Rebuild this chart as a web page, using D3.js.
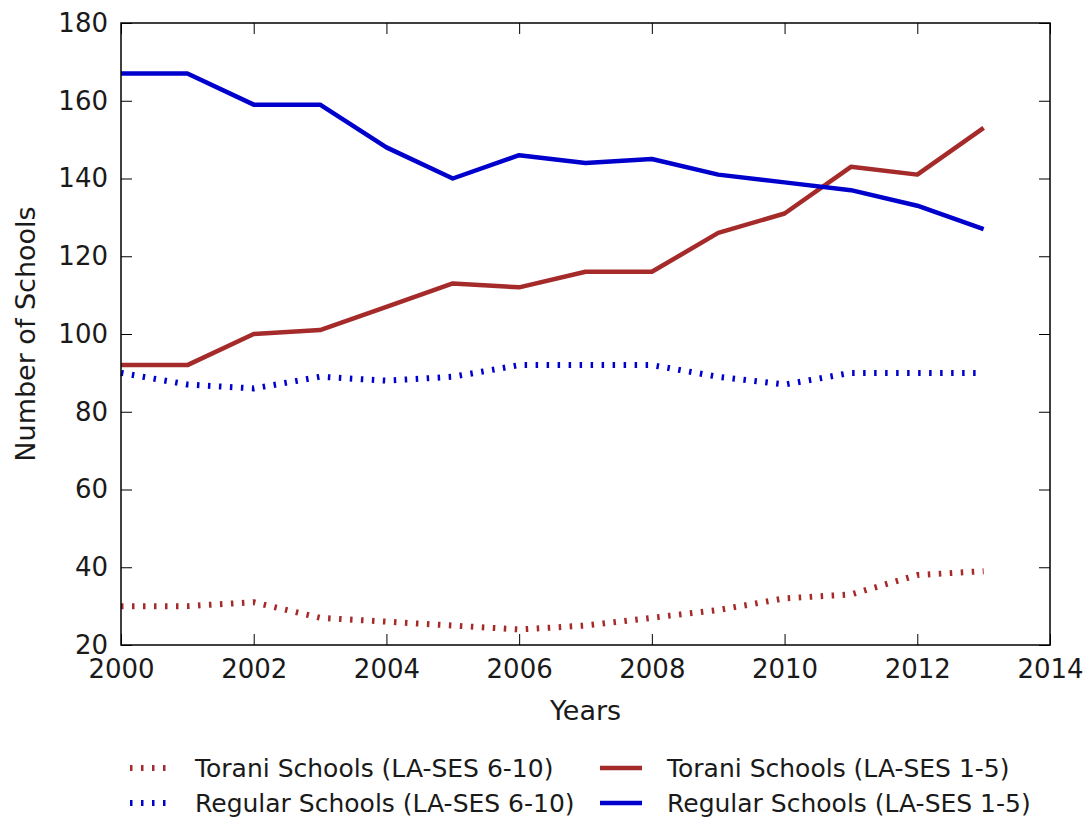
<!DOCTYPE html>
<html>
<head>
<meta charset="utf-8">
<script src="https://cdn.jsdelivr.net/npm/d3@7"></script>
<style>
  html, body { margin: 0; padding: 0; background: #fff; }
  svg { display: block; font-family: "DejaVu Sans", sans-serif; }
</style>
</head>
<body>
<svg id="chart" width="1091" height="821"></svg>
<script>
// Years on the x axis
const years = [2000, 2001, 2002, 2003, 2004, 2005, 2006, 2007, 2008, 2009, 2010, 2011, 2012, 2013];

// Number of schools per series
const toraniHigh  = [30, 30, 31, 27, 26, 25, 24, 25, 27, 29, 32, 33, 38, 39];        // Torani, LA-SES 6-10
const regularHigh = [90, 87, 86, 89, 88, 89, 92, 92, 92, 89, 87, 90, 90, 90];        // Regular, LA-SES 6-10
const toraniLow   = [92, 92, 100, 101, 107, 113, 112, 116, 116, 126, 131, 143, 141, 153]; // Torani, LA-SES 1-5
const regularLow  = [167, 167, 159, 159, 148, 140, 146, 144, 145, 141, 139, 137, 133, 127]; // Regular, LA-SES 1-5

// Tick values
const xTicks = [2000, 2002, 2004, 2006, 2008, 2010, 2012, 2014];
const yTicks = [20, 40, 60, 80, 100, 120, 140, 160, 180];

const seriesNames = [
  "Torani Schools (LA-SES 6-10)",
  "Torani Schools (LA-SES 1-5)",
  "Regular Schools (LA-SES 6-10)",
  "Regular Schools (LA-SES 1-5)"
];

const RED = "#a52a2a";
const BLUE = "#0000cd";

const series = [
  { name: seriesNames[0], values: toraniHigh,  color: RED,  dotted: true },
  { name: seriesNames[1], values: toraniLow,   color: RED,  dotted: false },
  { name: seriesNames[2], values: regularHigh, color: BLUE, dotted: true },
  { name: seriesNames[3], values: regularLow,  color: BLUE, dotted: false }
];

const svg = d3.select("#chart");
const margin = { left: 121, right: 41, top: 23, bottom: 176 };
const W = 1091, H = 821;
const x0 = margin.left, x1 = W - margin.right;
const y0 = H - margin.bottom, y1 = margin.top;

const x = d3.scaleLinear().domain([2000, 2014]).range([x0, x1]);
const y = d3.scaleLinear().domain([20, 180]).range([y0, y1]);

const TICK = 11;
const textColor = "#1a1a1a";

// Lines
const line = d3.line()
  .x((d, i) => x(years[i]))
  .y(d => y(d));

const plot = svg.append("g");
series.forEach(s => {
  plot.append("path")
    .datum(s.values)
    .attr("d", line)
    .attr("fill", "none")
    .attr("stroke", s.color)
    .attr("stroke-width", s.dotted ? 6 : 4.5)
    .attr("stroke-dasharray", s.dotted ? "2.5 8.5" : null)
    .attr("stroke-linejoin", "round")
    .attr("stroke-linecap", "butt");
});

// Axes with inward ticks on all four sides
const axisStyle = g => {
  g.select(".domain").remove();
  g.selectAll(".tick line").attr("stroke", "#000").attr("stroke-width", 1);
  g.selectAll(".tick text").attr("fill", textColor).attr("font-size", 26)
    .attr("font-family", "DejaVu Sans, sans-serif");
};

svg.append("g")
  .attr("transform", `translate(0,${y0})`)
  .call(d3.axisBottom(x).tickValues(xTicks).tickFormat(d3.format("d"))
    .tickSizeInner(-TICK).tickSizeOuter(0).tickPadding(8))
  .call(axisStyle)
  .call(g => g.selectAll(".tick text").attr("dy", "0.95em"));

svg.append("g")
  .attr("transform", `translate(0,${y1})`)
  .call(d3.axisTop(x).tickValues(xTicks).tickFormat("")
    .tickSizeInner(-TICK).tickSizeOuter(0))
  .call(axisStyle);

svg.append("g")
  .attr("transform", `translate(${x0},0)`)
  .call(d3.axisLeft(y).tickValues(yTicks).tickFormat(d3.format("d"))
    .tickSizeInner(-TICK).tickSizeOuter(0).tickPadding(13))
  .call(axisStyle);

svg.append("g")
  .attr("transform", `translate(${x1},0)`)
  .call(d3.axisRight(y).tickValues(yTicks).tickFormat("")
    .tickSizeInner(-TICK).tickSizeOuter(0))
  .call(axisStyle);

// Frame
svg.append("rect")
  .attr("x", x0).attr("y", y1)
  .attr("width", x1 - x0).attr("height", y0 - y1)
  .attr("fill", "none").attr("stroke", "#000").attr("stroke-width", 1.5);

// Axis titles
svg.append("text")
  .attr("x", (x0 + x1) / 2).attr("y", 720)
  .attr("text-anchor", "middle")
  .attr("font-size", 27).attr("fill", textColor)
  .text("Years");

svg.append("text")
  .attr("transform", `translate(35,${(y0 + y1) / 2}) rotate(-90)`)
  .attr("text-anchor", "middle")
  .attr("font-size", 27).attr("fill", textColor)
  .text("Number of Schools");

// Legend: two columns, two rows
const legend = svg.append("g");
const cols = [{ hx: 130, tx: 195 }, { hx: 600, tx: 667 }];
const rows = [768, 803];
series.forEach((s, i) => {
  const c = cols[i % 2], r = rows[Math.floor(i / 2)];
  legend.append("line")
    .attr("x1", c.hx).attr("x2", c.hx + 42)
    .attr("y1", r).attr("y2", r)
    .attr("stroke", s.color)
    .attr("stroke-width", s.dotted ? 6 : 4.5)
    .attr("stroke-dasharray", s.dotted ? "2.5 8.5" : null);
  legend.append("text")
    .attr("x", c.tx).attr("y", r)
    .attr("dy", "0.35em")
    .attr("font-size", 25).attr("fill", textColor)
    .text(s.name);
});
</script>
</body>
</html>
